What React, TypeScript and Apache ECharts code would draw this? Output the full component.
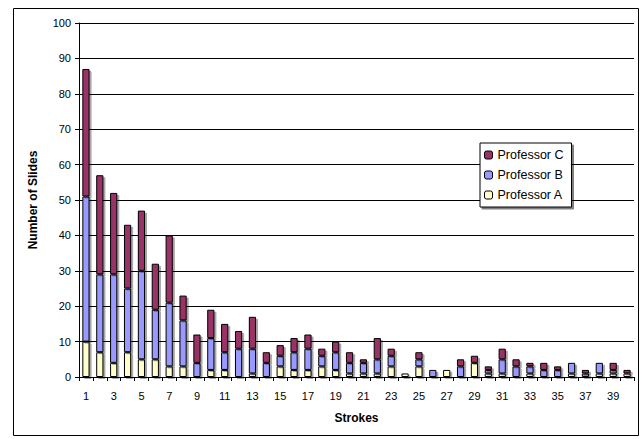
import React, { useEffect, useRef } from "react";
import * as echarts from "echarts";

const categories = Array.from({ length: 40 }, (_, i) => String(i + 1));
const professorA = [10,7,4,7,5,5,3,3,0,2,2,0,1,0,3,2,2,3,2,1,1,1,3,1,3,0,2,0,4,1,1,0,1,0,0,1,0,1,1,1];
const professorB = [41,22,25,18,25,14,18,13,4,9,5,8,7,4,3,5,6,3,5,3,3,4,3,0,2,2,0,3,0,1,4,3,2,2,2,3,1,3,1,0];
const professorC = [36,28,23,18,17,13,19,7,8,8,8,5,9,3,3,4,4,2,3,3,1,6,2,0,2,0,0,2,2,1,3,2,1,2,1,0,1,0,2,1];

const FONT = "'Liberation Sans', Arial, sans-serif";

export default function App() {
  const ref = useRef<HTMLDivElement>(null);
  useEffect(() => {
    document.body.style.margin = "0";
    const chart = echarts.init(ref.current!, null, { renderer: "svg" });
    const barStyle = (color: string) => ({
      color,
      borderColor: "#000",
      borderWidth: 1,
      shadowColor: "rgba(0,0,0,0.35)",
      shadowOffsetX: 2,
      shadowOffsetY: 2,
      shadowBlur: 1,
    });
    chart.setOption({
      animation: false,
      backgroundColor: "#fff",
      textStyle: { fontFamily: FONT },
      graphic: [
        {
          type: "rect",
          shape: { x: 13.5, y: 8.5, width: 625, height: 427 },
          style: { fill: "none", stroke: "#000", lineWidth: 1 },
          z: -1,
        },
      ],
      legend: {
        data: ["Professor C", "Professor B", "Professor A"],
        orient: "vertical",
        left: 480,
        top: 143,
        padding: [5, 8, 5, 4],
        itemWidth: 8,
        itemHeight: 8,
        itemGap: 6,
        backgroundColor: "#fff",
        borderColor: "#000",
        borderWidth: 1,
        shadowColor: "rgba(0,0,0,0.5)",
        shadowOffsetX: 2,
        shadowOffsetY: 2,
        textStyle: { fontFamily: FONT, fontSize: 12.5, color: "#000", lineHeight: 14 },
        itemStyle: { borderColor: "#000", borderWidth: 1, shadowColor: "transparent" },
      },
      grid: { left: 79, right: 8, top: 23, bottom: 62 },
      xAxis: {
        type: "category",
        data: categories,
        name: "Strokes",
        nameLocation: "middle",
        nameGap: 35,
        nameTextStyle: { fontFamily: FONT, fontSize: 12, fontWeight: "bold", color: "#000" },
        axisLine: { lineStyle: { color: "#000", width: 1 } },
        axisTick: { show: true, interval: 0, length: 4, lineStyle: { color: "#000" } },
        axisLabel: { interval: 1, fontSize: 11, color: "#000", margin: 13, fontFamily: FONT },
      },
      yAxis: {
        type: "value",
        min: 0,
        max: 100,
        interval: 10,
        name: "Number of Slides",
        nameLocation: "middle",
        nameGap: 40,
        nameTextStyle: { fontFamily: FONT, fontSize: 12, fontWeight: "bold", color: "#000" },
        axisLine: { show: true, lineStyle: { color: "#000", width: 1 } },
        axisTick: { show: true, length: 4, lineStyle: { color: "#000" } },
        axisLabel: { fontSize: 11, color: "#000", margin: 8, fontFamily: FONT },
        splitLine: { show: true, lineStyle: { color: "#000", width: 1 } },
      },
      series: [
        { name: "Professor A", type: "bar", stack: "s", data: professorA, barWidth: "52%", itemStyle: barStyle("#FFFFCC") },
        { name: "Professor B", type: "bar", stack: "s", data: professorB, barWidth: "52%", itemStyle: barStyle("#9999FF") },
        { name: "Professor C", type: "bar", stack: "s", data: professorC, barWidth: "52%", itemStyle: barStyle("#993366") },
      ],
    });
    return () => chart.dispose();
  }, []);
  return <div ref={ref} style={{ position: "absolute", left: 0, top: 0, width: 642, height: 439 }} />;
}
